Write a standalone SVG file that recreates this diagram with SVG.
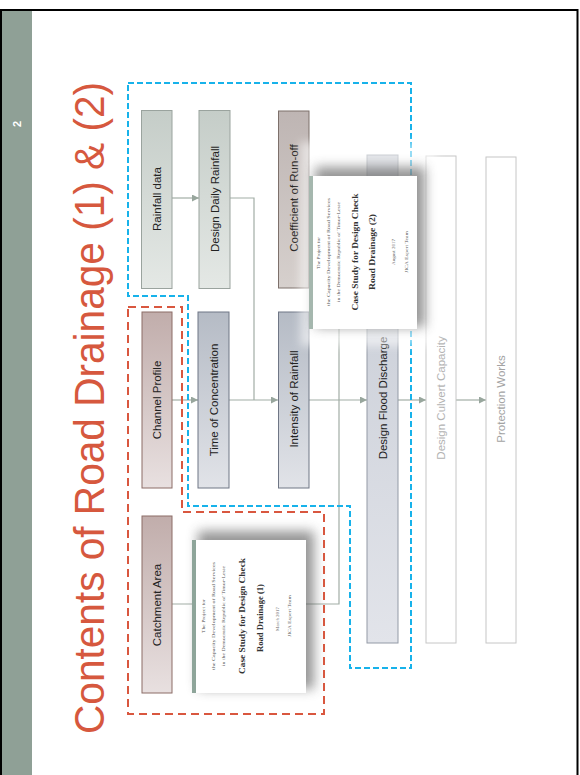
<svg xmlns="http://www.w3.org/2000/svg" width="580" height="775" viewBox="0 0 580 775">
  <style>
    .lbl { font-family: "Liberation Sans", Arial, sans-serif; font-size: 11.5px; fill: #222; text-anchor: middle; dominant-baseline: central; }
    .lbl-faint { fill: #b3b3b3; }
    .lbl-grey { fill: #a3a3a3; }
    .conn { fill: none; stroke: #a2ada6; stroke-width: 1.2; }
    .doc-small { font-family: "Liberation Serif", "Times New Roman", serif; font-size: 4.2px; fill: #555; text-anchor: middle; dominant-baseline: central; }
    .doc-big { font-family: "Liberation Serif", "Times New Roman", serif; font-size: 9px; font-weight: bold; fill: #333; text-anchor: middle; dominant-baseline: central; }
    .doc-mid { font-family: "Liberation Serif", "Times New Roman", serif; font-size: 4px; fill: #666; text-anchor: middle; dominant-baseline: central; }
  </style>
  <defs>
    <linearGradient id="gGreen" x1="0" y1="0" x2="0" y2="1">
      <stop offset="0" stop-color="#c5cdc8"/>
      <stop offset="1" stop-color="#e4e8e5"/>
    </linearGradient>
    <linearGradient id="gRose" x1="0" y1="0" x2="0" y2="1">
      <stop offset="0" stop-color="#c1adab"/>
      <stop offset="1" stop-color="#e8e0e0"/>
    </linearGradient>
    <linearGradient id="gSlate" x1="0" y1="0" x2="0" y2="1">
      <stop offset="0" stop-color="#b5bbc5"/>
      <stop offset="1" stop-color="#e1e3e8"/>
    </linearGradient>
    <linearGradient id="gTaupe" x1="0" y1="0" x2="0" y2="1">
      <stop offset="0" stop-color="#beb5b3"/>
      <stop offset="1" stop-color="#d6d0cd"/>
    </linearGradient>
    <linearGradient id="gFlood" x1="0" y1="0" x2="0" y2="1">
      <stop offset="0" stop-color="#c3c8d2"/>
      <stop offset="1" stop-color="#e2e4ea"/>
    </linearGradient>
    <marker id="arrow" viewBox="0 0 7 7" refX="7" refY="3.5" markerWidth="7" markerHeight="7" markerUnits="userSpaceOnUse" orient="auto">
      <path d="M0,0 L7,3.5 L0,7 z" fill="#98a69d"/>
    </marker>
    <filter id="soft" x="-30%" y="-30%" width="160%" height="160%">
      <feGaussianBlur stdDeviation="6"/>
    </filter>
    <filter id="haze" x="-30%" y="-30%" width="160%" height="160%">
      <feGaussianBlur stdDeviation="4"/>
    </filter>
  </defs>

  <!-- slide frame and side band -->
  <rect x="0" y="0" width="580" height="775" fill="#fff"/>
  <rect x="2" y="11" width="30" height="764" fill="#8fa096"/>
  <path d="M1,775 V10 H577.5 V775" fill="none" stroke="#000" stroke-width="2"/>
  <text transform="translate(17,124) rotate(-90)" font-family="Liberation Sans, Arial, sans-serif" font-size="11" font-weight="bold" fill="#fff" text-anchor="middle" dominant-baseline="central">2</text>

  <!-- title -->
  <text transform="translate(104,734) rotate(-90)" font-family="Liberation Sans, Arial, sans-serif" font-size="43" fill="#d6583e" textLength="652" lengthAdjust="spacingAndGlyphs">Contents of Road Drainage (1) &amp; (2)</text>

  <!-- connectors -->
  <g id="connectors">
    <path class="conn" d="M172,198 H199" marker-end="url(#arrow)"/>
    <path class="conn" d="M230,198 H254 V400"/>
    <path class="conn" d="M172,400 H198" marker-end="url(#arrow)"/>
    <path class="conn" d="M229,400 H278" marker-end="url(#arrow)"/>
    <path class="conn" d="M309,400 H367" marker-end="url(#arrow)"/>
    <path class="conn" d="M398,400 H426" marker-end="url(#arrow)"/>
    <path class="conn" d="M456,400 H486" marker-end="url(#arrow)"/>
    <path class="conn" d="M309,198 H339 V604 H172"/>
  </g>

  <!-- process boxes -->
  <g id="rainfall-data">
    <rect x="141.5" y="110.5" width="30.5" height="178" fill="url(#gGreen)" stroke="#9aa39e"/>
    <text class="lbl" transform="translate(157,199) rotate(-90)">Rainfall data</text>
  </g>
  <g id="design-daily-rainfall">
    <rect x="199" y="110.5" width="31" height="178" fill="url(#gGreen)" stroke="#9aa39e"/>
    <text class="lbl" transform="translate(214.5,199) rotate(-90)">Design Daily Rainfall</text>
  </g>
  <g id="coefficient-runoff">
    <rect x="278.5" y="111" width="30.5" height="177" fill="url(#gTaupe)" stroke="#7d706b"/>
    <text class="lbl" transform="translate(294,198) rotate(-90)">Coefficient of Run-off</text>
  </g>
  <g id="channel-profile">
    <rect x="142" y="312" width="30" height="176" fill="url(#gRose)" stroke="#8c6d67"/>
    <text class="lbl" transform="translate(157,400) rotate(-90)">Channel Profile</text>
  </g>
  <g id="time-of-concentration">
    <rect x="198" y="312" width="31" height="176" fill="url(#gSlate)" stroke="#6f7685"/>
    <text class="lbl" transform="translate(213.5,400) rotate(-90)">Time of Concentration</text>
  </g>
  <g id="intensity-of-rainfall">
    <rect x="278.5" y="312" width="30.5" height="176" fill="url(#gSlate)" stroke="#6f7685"/>
    <text class="lbl" transform="translate(294,399) rotate(-90)">Intensity of Rainfall</text>
  </g>
  <g id="catchment-area">
    <rect x="142" y="516" width="30" height="177" fill="url(#gRose)" stroke="#8c6d67"/>
    <text class="lbl" transform="translate(157,605) rotate(-90)">Catchment Area</text>
  </g>
  <g id="design-flood-discharge">
    <rect x="367" y="155" width="31" height="488" fill="url(#gFlood)" stroke="#939aa6"/>
    <text class="lbl" transform="translate(383,398) rotate(-90)">Design Flood Discharge</text>
  </g>
  <g id="design-culvert-capacity">
    <rect x="426" y="156" width="30" height="487" fill="#fff" stroke="#c6c6c6"/>
    <text class="lbl lbl-faint" transform="translate(441,398) rotate(-90)">Design Culvert Capacity</text>
  </g>
  <g id="protection-works">
    <rect x="486" y="157" width="30" height="486" fill="#fff" stroke="#c6c6c6"/>
    <text class="lbl lbl-grey" transform="translate(501,399) rotate(-90)">Protection Works</text>
  </g>

  <!-- report scopes -->
  <g id="scope-report-2">
    <path d="M128,83 H411 V668 H350 V506 H188 V296 H128 Z" fill="none" stroke="#17b2ea" stroke-width="2" stroke-dasharray="6,3"/>
  </g>
  <g id="scope-report-1">
    <path d="M128,307 H182 V512 H324 V714 H128 Z" fill="none" stroke="#d9573f" stroke-width="2" stroke-dasharray="8,5"/>
  </g>

  <!-- report cover: Road Drainage (1) -->
  <g id="report-cover-1">
    <rect x="198" y="531" width="116" height="158" fill="#505050" opacity="0.6" filter="url(#soft)"/>
    <rect x="192" y="540" width="114" height="153" fill="#fff"/>
    <rect x="192" y="540" width="4" height="153" fill="#8ea59a"/>
    <text class="doc-small" transform="translate(203,616) rotate(-90)" textLength="34" lengthAdjust="spacingAndGlyphs">The Project for</text>
    <text class="doc-small" transform="translate(213,616) rotate(-90)" textLength="108" lengthAdjust="spacingAndGlyphs">the Capacity Development of Road Services</text>
    <text class="doc-small" transform="translate(223.5,616) rotate(-90)" textLength="100" lengthAdjust="spacingAndGlyphs">in the Democratic Republic of Timor-Leste</text>
    <text class="doc-big" transform="translate(242,616) rotate(-90)" textLength="116" lengthAdjust="spacingAndGlyphs">Case Study for Design Check</text>
    <text class="doc-big" transform="translate(260,618) rotate(-90)" textLength="68" lengthAdjust="spacingAndGlyphs">Road Drainage (1)</text>
    <text class="doc-mid" transform="translate(277,619) rotate(-90)" textLength="24" lengthAdjust="spacingAndGlyphs">March 2017</text>
    <text class="doc-small" transform="translate(289,616) rotate(-90)" textLength="42" lengthAdjust="spacingAndGlyphs">JICA Expert Team</text>
  </g>

  <!-- report cover: Road Drainage (2) -->
  <g id="report-cover-2">
    <rect x="300" y="142" width="137" height="204" fill="#fff" opacity="0.55" filter="url(#haze)"/>
    <rect x="315" y="167" width="110" height="160" fill="#505050" opacity="0.6" filter="url(#soft)"/>
    <rect x="309" y="176" width="108" height="153" fill="#fff"/>
    <rect x="309" y="176" width="4" height="153" fill="#8ea59a" opacity="0.8"/>
    <text class="doc-small" transform="translate(318,253) rotate(-90)" textLength="32" lengthAdjust="spacingAndGlyphs">The Project for</text>
    <text class="doc-small" transform="translate(328,252) rotate(-90)" textLength="108" lengthAdjust="spacingAndGlyphs">the Capacity Development of Road Services</text>
    <text class="doc-small" transform="translate(338,252) rotate(-90)" textLength="100" lengthAdjust="spacingAndGlyphs">in the Democratic Republic of Timor-Leste</text>
    <text class="doc-big" transform="translate(355,252) rotate(-90)" textLength="117" lengthAdjust="spacingAndGlyphs">Case Study for Design Check</text>
    <text class="doc-big" transform="translate(372,252) rotate(-90)" textLength="76" lengthAdjust="spacingAndGlyphs">Road Drainage (2)</text>
    <text class="doc-mid" transform="translate(393,252) rotate(-90)" textLength="26" lengthAdjust="spacingAndGlyphs">August 2017</text>
    <text class="doc-small" transform="translate(406,252) rotate(-90)" textLength="42" lengthAdjust="spacingAndGlyphs">JICA Expert Team</text>
  </g>
</svg>
